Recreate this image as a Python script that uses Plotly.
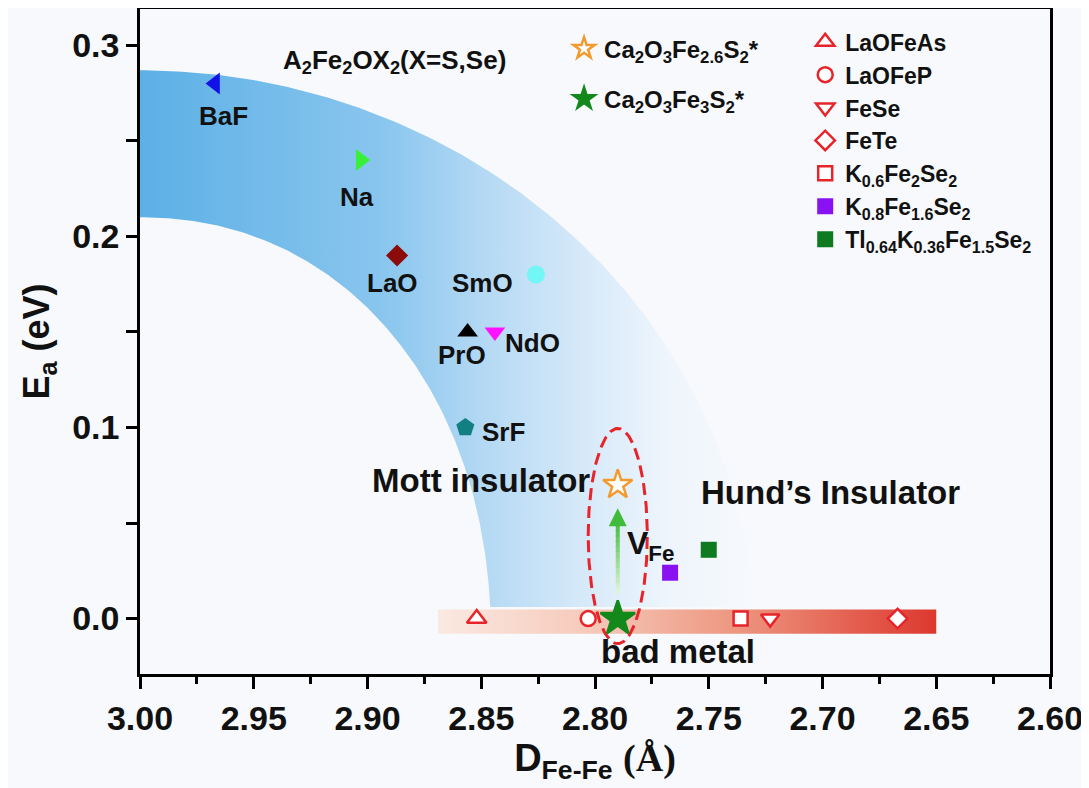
import numpy as np
import plotly.graph_objects as go

# ---------------- data ----------------
# A2Fe2OX2 (X = S, Se) family
fam_labels = ["BaF", "Na", "LaO", "SmO", "PrO", "NdO", "SrF"]
fam_d = [2.967, 2.903, 2.887, 2.826, 2.856, 2.844, 2.857]
fam_ea = [0.28, 0.24, 0.19, 0.18, 0.15, 0.15, 0.10]

# Ca2O3Fe3-xS2 (this work)
ca_names = ["Ca<sub>2</sub>O<sub>3</sub>Fe<sub>2.6</sub>S<sub>2</sub>*",
            "Ca<sub>2</sub>O<sub>3</sub>Fe<sub>3</sub>S<sub>2</sub>*"]
ca_d = [2.790, 2.790]
ca_ea = [0.07, 0.0]

# reference iron-based compounds
ref_names = ["LaOFeAs", "LaOFeP", "FeSe", "FeTe",
             "K<sub>0.6</sub>Fe<sub>2</sub>Se<sub>2</sub>",
             "K<sub>0.8</sub>Fe<sub>1.6</sub>Se<sub>2</sub>",
             "Tl<sub>0.64</sub>K<sub>0.36</sub>Fe<sub>1.5</sub>Se<sub>2</sub>"]
ref_d = [2.852, 2.803, 2.723, 2.667, 2.736, 2.767, 2.750]
ref_ea = [0.0, 0.0, 0.0, 0.0, 0.0, 0.024, 0.036]

x_ticks = [3.00, 2.95, 2.90, 2.85, 2.80, 2.75, 2.70, 2.65, 2.60]
y_ticks = [0.0, 0.1, 0.2, 0.3]

# ---------------- styles ----------------
FONT = "Liberation Sans, Arial, Helvetica, sans-serif"
SERIF = "Liberation Serif, Times New Roman, serif"
BG = "#f7f9fc"
fam_symbols = ["triangle-left", "triangle-right", "diamond", "circle",
               "triangle-up", "triangle-down", "pentagon"]
fam_colors = ["#1212e8", "#38f038", "#8b0a0a", "#72f6f6", "#000000", "#ff12ff", "#127f82"]
fam_sizes = [19, 19, 17, 18, 18, 18, 19]
# label offsets in pixels (dx right, dy up)
fam_lab_dx = [8, -4, -5, -53, -6, 38, 38]
fam_lab_dy = [-32, -37, -27, -8, -23, -11, -5]

ca_symbols = ["star", "star"]
ca_fill = ["white", "#13881b"]
ca_line = ["#f39a2e", "#13881b"]
ca_sizes = [22, 26]

RED = "#e8242b"
ref_symbols = ["triangle-up", "circle", "triangle-down", "diamond", "square", "square", "square"]
ref_fill = ["white", "white", "white", "white", "white", "#8a12f2", "#0f7a1f"]
ref_line = [RED, RED, RED, RED, RED, "#8a12f2", "#0f7a1f"]
ref_lw = [2.5, 2.5, 2.5, 2.5, 2.5, 0, 0]
ref_sizes = [17, 15, 16, 15, 14, 16, 16]

fig = go.Figure()

# ---- blue band (A2Fe2OX2 region): elliptical annulus ----
cx, cy = 3.00, -0.0121
ao, bo = 0.2703, 0.299
ai, bi = 0.1543, 0.2221
ycut = 0.006
n_in = 2.12
to = np.linspace(np.arcsin((ycut - cy) / bo), np.pi / 2, 200)
ti = np.linspace(np.arcsin(((ycut - cy) / bi) ** (n_in / 2)), np.pi / 2, 200)
xo = cx - ao * np.cos(to)
yo = cy + bo * np.sin(to)
xi = cx - ai * np.cos(ti) ** (2 / n_in)
yi = cy + bi * np.sin(ti) ** (2 / n_in)
band_x = np.concatenate([xo, xi[::-1]])
band_y = np.concatenate([yo, yi[::-1]])
fig.add_trace(go.Scatter(
    x=band_x, y=band_y, mode="lines", fill="toself", line=dict(width=0),
    fillgradient=dict(type="horizontal", colorscale=[
        [0.0, "rgb(92,176,230)"], [0.40, "rgb(138,198,238)"],
        [0.57, "rgb(182,218,244)"], [0.72, "rgb(214,233,249)"],
        [0.86, "rgb(238,245,252)"], [1.0, "rgb(247,249,252)"]]),
    hoverinfo="skip", showlegend=False))

# ---- red band (bad metal region) ----
bm_x = [2.869, 2.650]
bm_y = [-0.0079, 0.0047]
fig.add_trace(go.Scatter(
    x=[bm_x[0], bm_x[1], bm_x[1], bm_x[0], bm_x[0]],
    y=[bm_y[0], bm_y[0], bm_y[1], bm_y[1], bm_y[0]],
    mode="lines", fill="toself", line=dict(width=0),
    fillgradient=dict(type="horizontal", colorscale=[
        [0.0, "rgb(250,233,226)"], [0.3, "rgb(246,202,187)"],
        [0.6, "rgb(237,150,128)"], [1.0, "rgb(221,56,46)"]]),
    hoverinfo="skip", showlegend=False))

# ---- dashed ellipse around Ca2O3Fe3-xS2 ----
ell_c = (2.790, 0.0432)
ell_r = (0.013, 0.0563)
t = np.linspace(0, 2 * np.pi, 200)
fig.add_trace(go.Scatter(
    x=ell_c[0] + ell_r[0] * np.cos(t), y=ell_c[1] + ell_r[1] * np.sin(t),
    mode="lines", line=dict(color=RED, width=3, dash="12px,6px"),
    hoverinfo="skip", showlegend=False))

# ---- A2Fe2OX2 family markers ----
for i in range(len(fam_labels)):
    fig.add_trace(go.Scatter(
        x=[fam_d[i]], y=[fam_ea[i]], mode="markers", name=fam_labels[i],
        marker=dict(symbol=fam_symbols[i], color=fam_colors[i], size=fam_sizes[i],
                    line=dict(width=0)),
        showlegend=False))
    fig.add_annotation(x=fam_d[i], y=fam_ea[i], text=fam_labels[i], showarrow=False,
                       xshift=fam_lab_dx[i], yshift=fam_lab_dy[i],
                       font=dict(family=FONT, size=26, color="#111", weight="bold"))

# ---- reference compounds ----
for i in range(len(ref_names)):
    fig.add_trace(go.Scatter(
        x=[ref_d[i]], y=[ref_ea[i]], mode="markers", name=ref_names[i],
        marker=dict(symbol=ref_symbols[i], color=ref_fill[i], size=ref_sizes[i],
                    line=dict(color=ref_line[i], width=ref_lw[i])),
        legend="legend2", legendgroup="r%d" % i))

# ---- this work ----
for i in range(len(ca_names)):
    fig.add_trace(go.Scatter(
        x=[ca_d[i]], y=[ca_ea[i]], mode="markers", name=ca_names[i],
        marker=dict(symbol=ca_symbols[i], color=ca_fill[i], size=ca_sizes[i],
                    line=dict(color=ca_line[i], width=2.5)),
        legend="legend", legendgroup="c%d" % i))

# ---- green gradient arrow (V_Fe) ----
arr_x = 2.790
arr_y0, arr_y1, arr_tip = 0.013, 0.051, 0.0578
nseg = 14
ys = np.linspace(arr_y0, arr_y1, nseg + 1)
c0 = np.array([228, 246, 222])
c1 = np.array([64, 188, 58])
shapes = []
for k in range(nseg):
    f = (k + 0.5) / nseg
    c = (c0 + (c1 - c0) * f).astype(int)
    shapes.append(dict(type="line", xref="x", yref="y", x0=arr_x, x1=arr_x,
                       y0=ys[k], y1=ys[k + 1] + 0.0005,
                       line=dict(color="rgb(%d,%d,%d)" % tuple(c), width=4)))
fig.add_annotation(x=arr_x, y=arr_tip, ax=arr_x, ay=arr_y1 - 0.002,
                   xref="x", yref="y", axref="x", ayref="y", text="",
                   showarrow=True, arrowhead=2, arrowsize=0.9, arrowwidth=4,
                   arrowcolor="rgb(64,188,58)", standoff=0)

# ---- text annotations ----
def txt(x, y, s, size, bold=True, xanchor="center"):
    fig.add_annotation(x=x, y=y, text=s, showarrow=False, xanchor=xanchor,
                       font=dict(family=FONT, size=size, color="#111",
                                 weight="bold" if bold else "normal"))

txt(2.888, 0.2915, "A<sub>2</sub>Fe<sub>2</sub>OX<sub>2</sub>(X=S,Se)", 26, bold=True)
txt(2.8501, 0.0721, "Mott insulator", 33)
txt(2.6967, 0.0658, "Hund’s Insulator", 33)
txt(2.7635, -0.0174, "bad metal", 33)
txt(2.7868, 0.038, "V<sub>Fe</sub>", 32, xanchor="left")

axis_common = dict(showline=True, linecolor="black", linewidth=2.5, mirror=True,
                   ticks="outside", tickwidth=2.5, tickcolor="black",
                   showgrid=False, zeroline=False, automargin=False,
                   tickfont=dict(family=FONT, size=34, color="#111", weight="bold"))

# the page places the figure 8 px from the top-left corner, so the figure is
# sized/margined to put the plot frame at x 140..1050, y 9..674 in the window
fig.update_layout(
    width=1081, height=780,
    margin=dict(l=132, r=39, t=1, b=114),
    paper_bgcolor=BG, plot_bgcolor=BG,
    shapes=shapes,
    xaxis=dict(range=[3.0, 2.6], tickvals=x_ticks,
               ticktext=["%.2f" % v for v in x_ticks], ticklen=12,
               minor=dict(ticks="outside", dtick=0.025, tick0=3.0, ticklen=7,
                          tickwidth=2.5, tickcolor="black"),
               title=dict(text="D<sub>Fe-Fe</sub> <span style='font-family:" + SERIF + "'>(Å)</span>",
                          standoff=4,
                          font=dict(family=FONT, size=38, color="#111", weight="bold")),
               **axis_common),
    yaxis=dict(range=[-0.029, 0.319], tickvals=y_ticks,
               ticktext=["%.1f" % v for v in y_ticks], ticklen=11,
               minor=dict(ticks="outside", dtick=0.05, tick0=0, ticklen=11,
                          tickwidth=2.5, tickcolor="black"),
               title=dict(text="E<sub>a</sub> (eV)", standoff=12,
                          font=dict(family=FONT, size=36, color="#111", weight="bold")),
               **axis_common),
    legend=dict(x=0.466, y=0.974, xanchor="left", yanchor="top",
                bgcolor="rgba(0,0,0,0)", tracegroupgap=16,
                font=dict(family=FONT, size=24, color="#111", weight="bold")),
    legend2=dict(x=0.731, y=0.983, xanchor="left", yanchor="top",
                 bgcolor="rgba(0,0,0,0)", tracegroupgap=0,
                 font=dict(family=FONT, size=23, color="#111", weight="bold")),
)

fig.write_html("out.html")
